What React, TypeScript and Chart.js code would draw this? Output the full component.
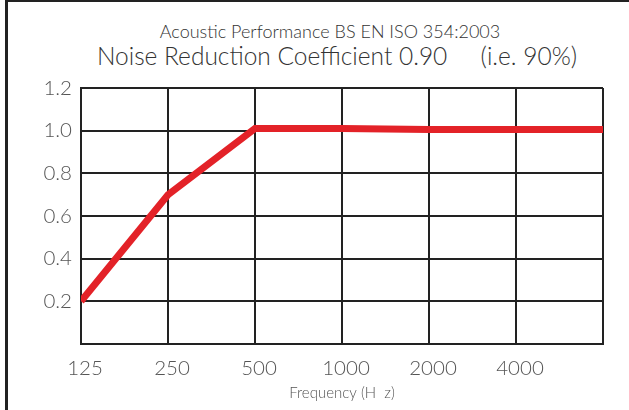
import React, { useEffect, useRef } from "react";
import { Chart, registerables } from "chart.js";

Chart.register(...registerables);

const frequencies = ["125", "250", "500", "1000", "2000", "4000", ""];
const absorption = [0.2, 0.7, 1.01, 1.01, 1.005, 1.005, 1.005];
const yTicks = [0.2, 0.4, 0.6, 0.8, 1.0, 1.2];

const titleText = "Acoustic Performance BS EN ISO 354:2003";
const subtitleText = "Noise Reduction Coefficient 0.90\u00a0\u00a0\u00a0\u00a0\u00a0(i.e. 90%)";
const xTitle = "Frequency (H  z)";

export default function App() {
  const ref = useRef<HTMLCanvasElement>(null);

  useEffect(() => {
    document.body.style.margin = "0";
    const ctx = ref.current!;
    const chart = new Chart(ctx, {
      type: "line",
      data: {
        labels: frequencies,
        datasets: [
          {
            data: absorption,
            borderColor: "#e32228",
            borderWidth: 7,
            pointRadius: 0,
            tension: 0,
            fill: false,
            clip: 0,
          },
        ],
      },
      options: {
        responsive: false,
        animation: false,
        layout: { padding: { left: 0, right: 26, top: 88, bottom: 0 } },
        plugins: {
          legend: { display: false },
          tooltip: { enabled: false },
          title: { display: false },
        },
        scales: {
          x: {
            offset: false,
            grid: { color: "#222", lineWidth: 2, drawTicks: false },
            border: { color: "#222", width: 2 },
            ticks: {
              color: "#555",
              font: { family: "Lato", weight: "300", size: 20.5 },
              padding: 12,
              maxRotation: 0,
              autoSkip: false,
              labelOffset: 4,
            },
            title: {
              display: true,
              text: xTitle,
              color: "#555",
              font: { family: "Lato", weight: "300", size: 15 },
              padding: { top: 0, bottom: 8 },
            },
            afterFit: (s: any) => {
              s.height = 66;
            },
          },
          y: {
            min: 0,
            max: 1.2,
            grid: { color: "#222", lineWidth: 2, drawTicks: false },
            border: { color: "#222", width: 2 },
            afterBuildTicks: (s: any) => {
              s.ticks = [0, ...yTicks].map((v) => ({ value: v }));
            },
            ticks: {
              color: "#555",
              font: { family: "Lato", weight: "300", size: 20.5 },
              padding: 9,
              callback: (v: any) => (Number(v) === 0 ? "" : Number(v).toFixed(1)),
            },
            afterFit: (s: any) => {
              s.width = 81;
            },
          },
        },
      },
    });
    return () => chart.destroy();
  }, []);

  return (
    <div style={{ position: "fixed", left: 0, top: 0, width: 629, height: 410, background: "#fff", overflow: "hidden" }}>
      <div
        style={{
          position: "absolute",
          left: 5,
          top: 0,
          right: 0,
          bottom: 0,
          borderTop: "2px solid #222",
          borderLeft: "3px solid #222",
        }}
      />
      <div
        style={{
          position: "absolute",
          left: 0,
          width: 660,
          top: 20,
          textAlign: "center",
          fontFamily: "Lato",
          fontWeight: 300,
          fontSize: 18,
          color: "#333",
          whiteSpace: "pre",
        }}
      >
        {titleText}
      </div>
      <div
        style={{
          position: "absolute",
          left: 0,
          width: 674,
          top: 41,
          textAlign: "center",
          fontFamily: "Lato",
          fontWeight: 300,
          fontSize: 24.5,
          color: "#333",
          whiteSpace: "pre",
        }}
      >
        {subtitleText}
      </div>
      <canvas ref={ref} width={629} height={410} style={{ position: "absolute", left: 0, top: 0 }} />
    </div>
  );
}
